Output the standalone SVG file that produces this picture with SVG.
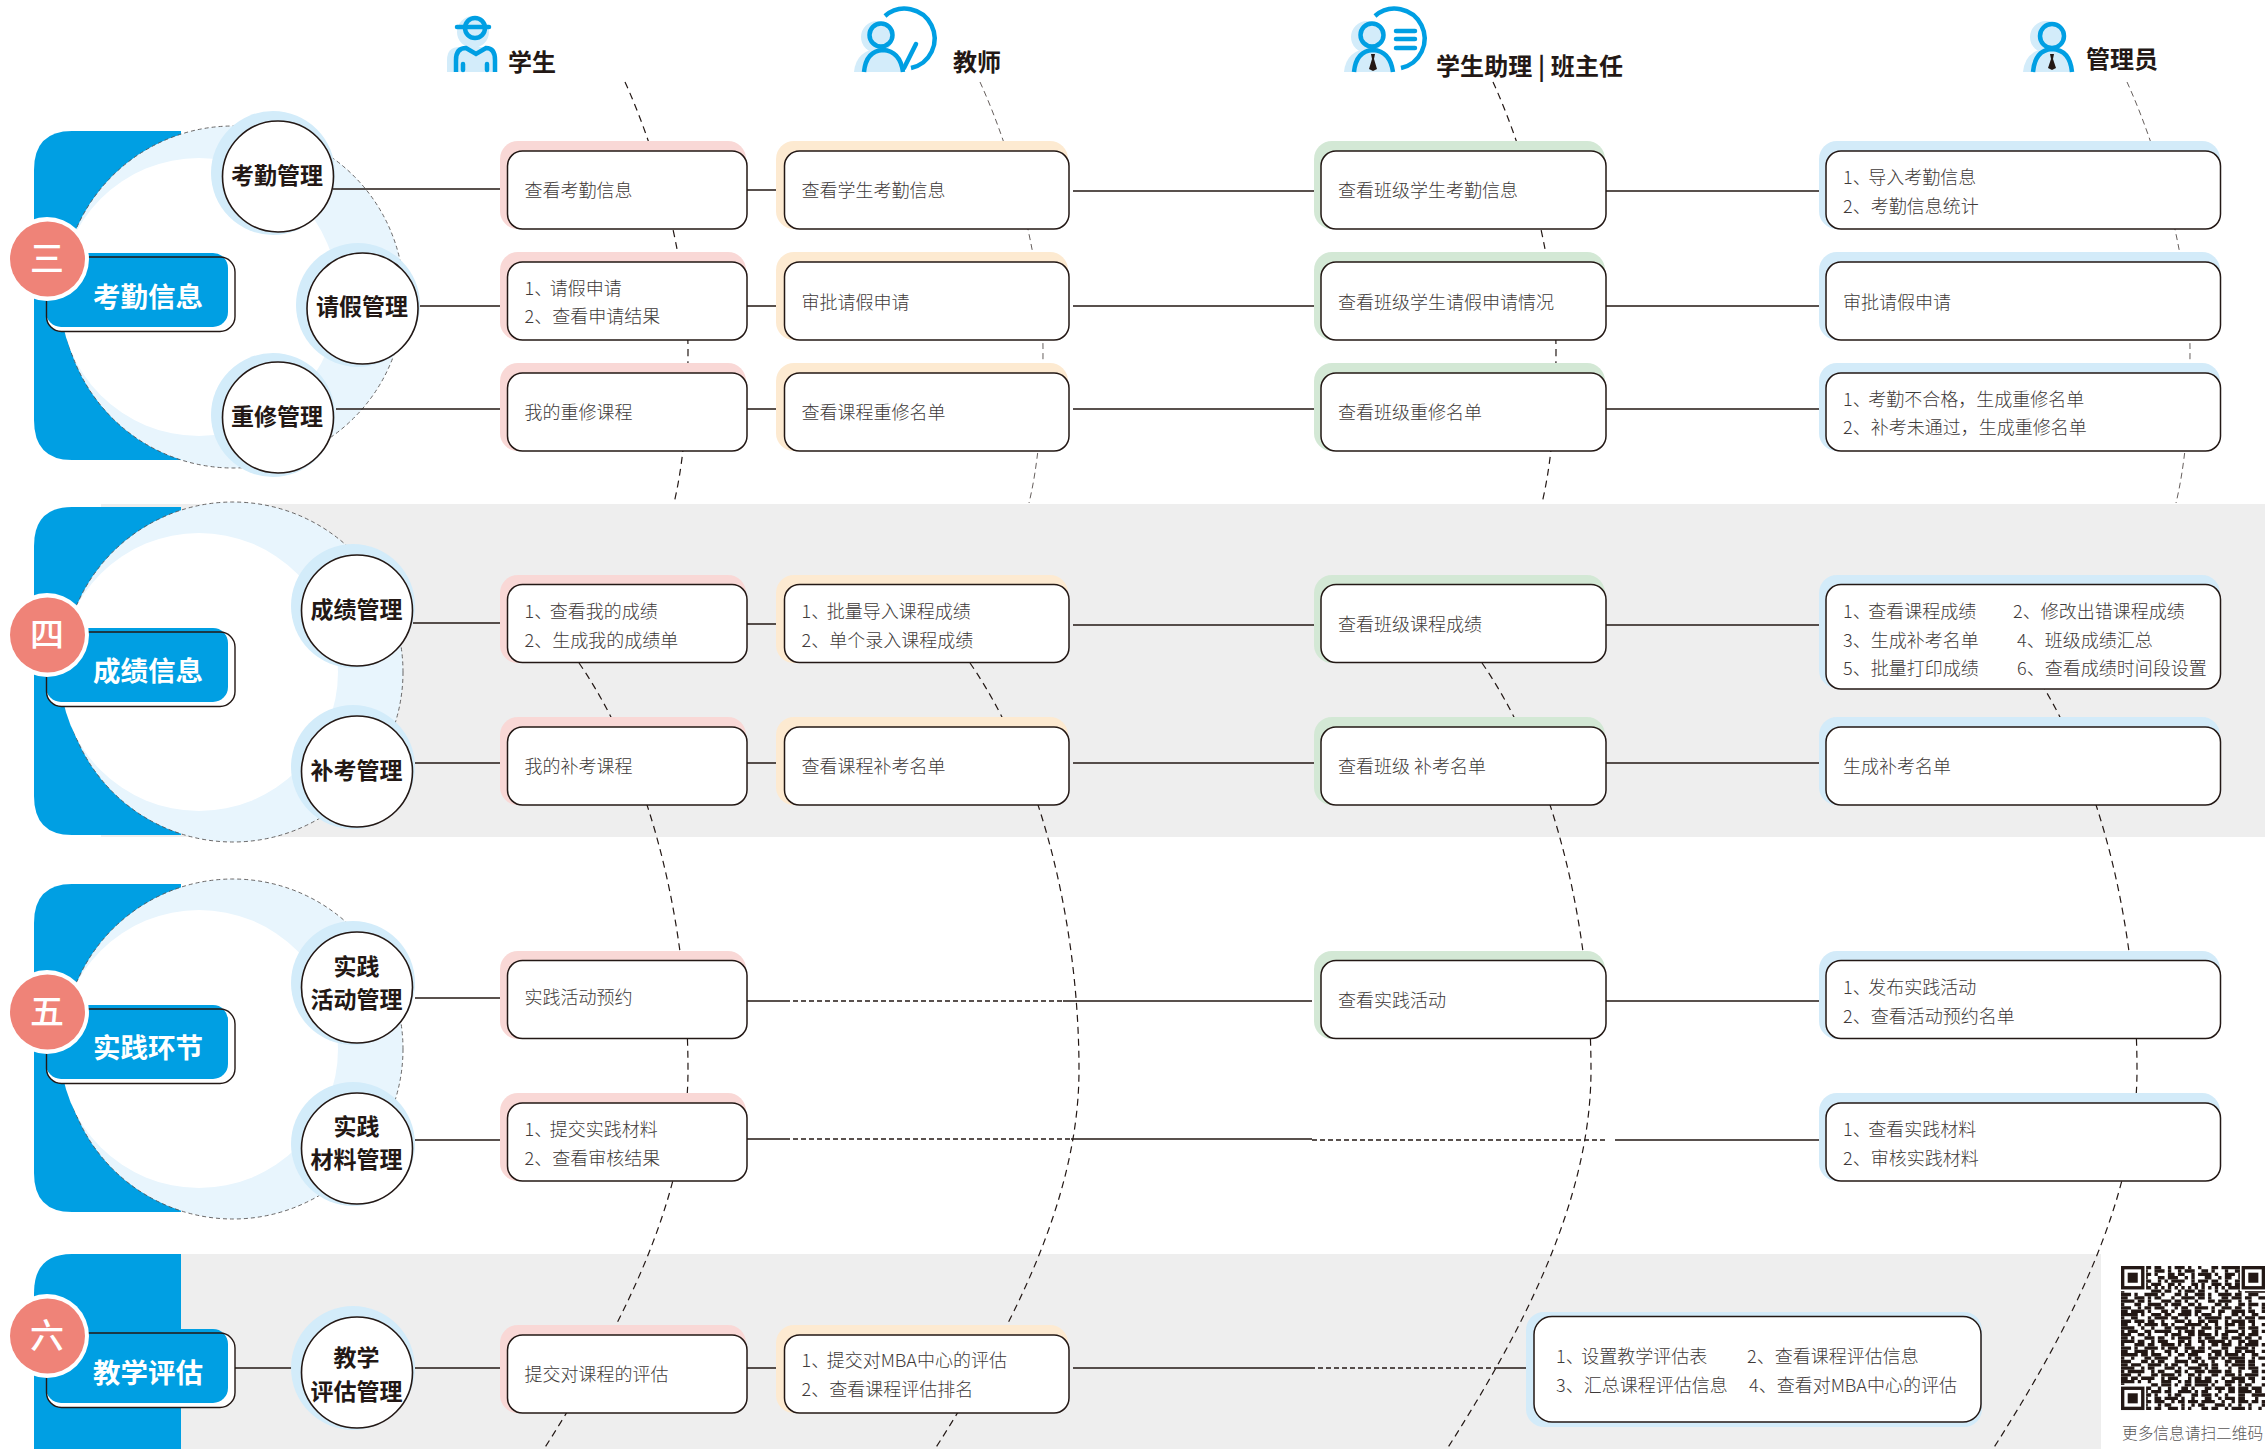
<svg xmlns="http://www.w3.org/2000/svg" width="2265" height="1449" viewBox="0 0 2265 1449">
<style>
text{font-family:"Noto Sans CJK SC","Noto Sans",sans-serif}
.t{font-size:18px;fill:#3e3a39;font-weight:300}
.n{font-size:23px;fill:#231815;font-weight:700;text-anchor:middle}
.h{font-size:24px;fill:#231815;font-weight:700}
.l{font-size:27.5px;fill:#fff;font-weight:700;text-anchor:middle}
.b{font-size:34px;fill:#fff;font-weight:500;text-anchor:middle}
.box{fill:#fff;stroke:#231815;stroke-width:1.5}
.pk{fill:#f9d8d6}.og{fill:#fdead1}.gn{fill:#d3e8d5}.bl{fill:#d3ebf9}
.ln{stroke:#231815;stroke-width:1.6;fill:none}
.dl{stroke:#231815;stroke-width:1.6;fill:none;stroke-dasharray:5 3}
.arc{stroke:#231815;stroke-width:1.2;fill:none;stroke-dasharray:7 5}
.arct{stroke:#231815;stroke-width:.7;fill:none;stroke-dasharray:6 4}
.halo{fill:#d3ecfa}
.circ{fill:#fff;stroke:#231815;stroke-width:1.6}
.ring{fill:#e8f5fd;stroke:#595757;stroke-width:.9;stroke-dasharray:4 3}
.pan{fill:#009fe3}
.lblo{fill:#fff}.lbls{fill:none;stroke:#231815;stroke-width:1.4}
.ic{fill:none;stroke:#009fe3;stroke-width:4.5;stroke-linecap:round}
.icb{fill:none;stroke:#009fe3;stroke-width:4.5}
.icf{fill:#d3ecfa;stroke:#009fe3;stroke-width:4.5}
.lt{fill:#d3ecfa}
.tie{fill:#231815}
.q{fill:none;stroke:#231815;stroke-width:1}
</style>
<defs>
<path id="a1" d="M625 82C665 170 688 280 688 350S682 470 674 503"/>
<path id="a2" d="M579 663C653 770 688 930 688 1070C688 1200 620 1330 544 1449"/>
<g id="fp"><rect x="-.5" y="-.5" width="8" height="8" fill="#fff"/><rect x=".5" y=".5" width="6" height="6" fill="#fff" stroke="#231815"/><rect x="2" y="2" width="3" height="3" fill="#231815"/></g>
</defs>
<rect x="101" y="504" width="2164" height="333" fill="#eee"/>
<rect x="181" y="1254" width="1920" height="195" fill="#eee"/>

<g id="connectors">
<use href="#a1" class="arc"/>
<use href="#a1" class="arct" x="355"/>
<use href="#a1" class="arc" x="868"/>
<use href="#a1" class="arct" x="1502"/>
<use href="#a2" class="arc"/>
<use href="#a2" class="arc" x="391"/>
<use href="#a2" class="arc" x="903"/>
<use href="#a2" class="arc" x="1449"/>
</g>

<g id="panel-3"><path class="pan" d="M181 131H72Q34 131 34 170V420Q34 460 72 460H181Z"/><circle class="ring" cx="233" cy="297" r="171"/><circle cx="199" cy="297" r="139" fill="#fff"/></g>
<g id="panel-4"><path class="pan" d="M181 507H72Q34 507 34 546V796Q34 835 72 835H181Z"/><circle class="ring" cx="233" cy="672" r="170"/><circle cx="199" cy="672" r="139" fill="#fff"/></g>
<g id="panel-5"><path class="pan" d="M181 884H72Q34 884 34 923V1173Q34 1212 72 1212H181Z"/><circle class="ring" cx="233" cy="1049" r="170"/><circle cx="199" cy="1049" r="139" fill="#fff"/></g>
<g id="panel-6"><path class="pan" d="M181 1254H72Q34 1254 34 1293V1449H181Z"/></g>

<g id="connector-lines">
<path class="ln" d="M333 189H500M747 190H776M1073 191H1314M1606 191H1819"/>
<path class="ln" d="M418 306H500M747 306H776M1073 306H1314M1606 306H1819"/>
<path class="ln" d="M336 409H500M747 409H776M1073 409H1314M1606 409H1819"/>
<path class="ln" d="M413 623H500M747 624H783M1073 625H1314M1606 625H1819"/>
<path class="ln" d="M415 763H500M747 763H776M1073 763H1314M1606 763H1819"/>
<path class="ln" d="M415 998H500M747 1001H785M1063 1001H1312M1606 1001H1819"/>
<path class="dl" d="M785 1001H1063"/>
<path class="ln" d="M415 1140H500M747 1139H785M1071 1139H1312M1615 1140H1819"/>
<path class="dl" d="M785 1139H1071M1312 1140H1607"/>
<path class="ln" d="M235 1368H292M415 1368H500M747 1368H776M1073 1368H1310M1498 1368H1526"/>
<path class="dl" d="M1310 1368H1498"/>
</g>

<g id="head-student"><circle class="lt" cx="473" cy="32" r="16"/><path class="lt" d="M447 72V60Q447 47 460 47H485Q497 47 497 60V72Z"/><circle class="icb" stroke-width="4" cx="475" cy="28" r="10"/><path class="ic" stroke-width="4" d="M457 27H489"/><path class="icb" d="M456 72V60Q456 48 466 48L476 54L486 48Q495 48 495 60V72"/><path class="ic" d="M463 64V70M487 64V70"/><text class="h" x="508" y="71">学生</text></g>
<g id="head-teacher"><circle class="lt" cx="877" cy="37" r="16"/><path class="lt" d="M854 72Q856 50 880 48Q900 50 903 72Z"/><circle class="icf" cx="881" cy="35" r="11.5"/><path class="icb" d="M864 72Q866 51 883 50Q900 51 903 72"/><path class="icb" stroke-width="4" d="M885 16A30 30 0 1 1 911 68"/><path class="ic" d="M904 68L916 44"/><text class="h" x="953" y="71">教师</text></g>
<g id="head-assistant"><circle class="lt" cx="1367" cy="37" r="16"/><path class="lt" d="M1344 72Q1346 50 1370 48Q1390 50 1393 72Z"/><circle class="icf" cx="1372" cy="35" r="11.5"/><path class="icb" d="M1354 72Q1356 51 1373 50Q1390 51 1393 72"/><path class="tie" d="M1371 54H1375L1374 59L1377 69L1373 71L1369 69L1372 59Z"/><path class="icb" stroke-width="4" d="M1375 16A30 30 0 1 1 1401 68"/><path class="ic" d="M1396 31H1415M1396 39H1415M1396 48H1415"/><text class="h" x="1436" y="75" textLength="187">学生助理 | 班主任</text></g>
<g id="head-admin"><circle class="lt" cx="2046" cy="37" r="16"/><path class="lt" d="M2023 72Q2025 50 2048 48Q2070 50 2072 72Z"/><circle class="icf" cx="2052" cy="36" r="12"/><path class="icb" d="M2033 72Q2035 50 2052 49Q2070 50 2072 72"/><path class="tie" d="M2050 54H2054L2053 59L2056 68L2052 70L2048 68L2051 59Z"/><text class="h" x="2086" y="68">管理员</text></g>

<g id="n-kq"><circle class="halo" cx="273" cy="173" r="62"/><circle class="circ" cx="278" cy="176.500" r="55.500"/><text class="n" x="277" y="184">考勤管理</text></g>
<g id="n-qj"><circle class="halo" cx="358" cy="305" r="62"/><circle class="circ" cx="362.500" cy="308.500" r="55.500"/><text class="n" x="362" y="315">请假管理</text></g>
<g id="n-cx"><circle class="halo" cx="273" cy="415" r="62"/><circle class="circ" cx="278" cy="417.500" r="55.500"/><text class="n" x="277" y="425">重修管理</text></g>
<g id="n-cj"><circle class="halo" cx="353" cy="606" r="62"/><circle class="circ" cx="357" cy="610.500" r="55.500"/><text class="n" x="356.500" y="618">成绩管理</text></g>
<g id="n-bk"><circle class="halo" cx="353" cy="767" r="62"/><circle class="circ" cx="357" cy="771.500" r="55.500"/><text class="n" x="356.500" y="779">补考管理</text></g>
<g id="n-sj1"><circle class="halo" cx="353" cy="983" r="62"/><circle class="circ" cx="357" cy="987.500" r="55.500"/><text class="n" x="356.500" y="975">实践</text><text class="n" x="356.500" y="1008">活动管理</text></g>
<g id="n-sj2"><circle class="halo" cx="353" cy="1144" r="62"/><circle class="circ" cx="357" cy="1148.500" r="55.500"/><text class="n" x="356.500" y="1135">实践</text><text class="n" x="356.500" y="1168">材料管理</text></g>
<g id="n-pg"><circle class="halo" cx="353" cy="1368" r="62"/><circle class="circ" cx="357" cy="1372.500" r="55.500"/><text class="n" x="356.500" y="1366">教学</text><text class="n" x="356.500" y="1400">评估管理</text></g>

<g id="label-3"><rect class="lblo" x="46.500" y="257" width="188.500" height="74.500" rx="15"/><rect class="pan" x="46" y="253" width="182" height="74" rx="15"/><rect class="lbls" x="46.500" y="257" width="188.500" height="74.500" rx="15"/><text class="l" x="148" y="307">考勤信息</text><circle cx="47" cy="259" r="42" fill="#fff"/><circle cx="47.500" cy="259" r="37.500" fill="#ef8378"/><text class="b" x="47" y="271">三</text></g>
<g id="label-4"><rect class="lblo" x="46.500" y="632" width="188.500" height="74.500" rx="15"/><rect class="pan" x="46" y="628" width="182" height="74" rx="15"/><rect class="lbls" x="46.500" y="632" width="188.500" height="74.500" rx="15"/><text class="l" x="148" y="681">成绩信息</text><circle cx="47" cy="635" r="42" fill="#fff"/><circle cx="47.500" cy="635" r="37.500" fill="#ef8378"/><text class="b" x="47" y="647">四</text></g>
<g id="label-5"><rect class="lblo" x="46.500" y="1009" width="188.500" height="74.500" rx="15"/><rect class="pan" x="46" y="1005" width="182" height="74" rx="15"/><rect class="lbls" x="46.500" y="1009" width="188.500" height="74.500" rx="15"/><text class="l" x="148" y="1058">实践环节</text><circle cx="47" cy="1012" r="42" fill="#fff"/><circle cx="47.500" cy="1012" r="37.500" fill="#ef8378"/><text class="b" x="47" y="1024">五</text></g>
<g id="label-6"><rect class="lblo" x="46.500" y="1333" width="188.500" height="74.500" rx="15"/><rect class="pan" x="46" y="1329" width="182" height="74" rx="15"/><rect class="lbls" x="46.500" y="1333" width="188.500" height="74.500" rx="15"/><text class="l" x="148" y="1383">教学评估</text><circle cx="47" cy="1336" r="42" fill="#fff"/><circle cx="47.500" cy="1336" r="37.500" fill="#ef8378"/><text class="b" x="47" y="1348">六</text></g>

<g id="c1s"><rect class="pk" x="500" y="141" width="246" height="88" rx="18"/><rect class="box" x="507.500" y="151" width="239.500" height="78" rx="15"/><text class="t" x="524.500" y="197">查看考勤信息</text></g>
<g id="c1t"><rect class="og" x="776" y="141" width="292" height="88" rx="18"/><rect class="box" x="784.500" y="151" width="284.500" height="78" rx="15"/><text class="t" x="801.500" y="197">查看学生考勤信息</text></g>
<g id="c1c"><rect class="gn" x="1314" y="141" width="291" height="88" rx="18"/><rect class="box" x="1321" y="151" width="285" height="78" rx="15"/><text class="t" x="1338" y="197">查看班级学生考勤信息</text></g>
<g id="c1a"><rect class="bl" x="1819" y="141" width="401" height="88" rx="18"/><rect class="box" x="1826" y="151" width="394.500" height="78" rx="15"/><text class="t" x="1843" y="183.500">1、<tspan dx="-2.500">导入考勤信息</tspan></text><text class="t" x="1843" y="212.500">2、考勤信息统计</text></g>

<g id="c2s"><rect class="pk" x="500" y="252" width="246" height="88" rx="18"/><rect class="box" x="507.500" y="262" width="239.500" height="78" rx="15"/><text class="t" x="524.500" y="295">1、<tspan dx="-2.500">请假申请</tspan></text><text class="t" x="524.500" y="323">2、查看申请结果</text></g>
<g id="c2t"><rect class="og" x="776" y="252" width="292" height="88" rx="18"/><rect class="box" x="784.500" y="262" width="284.500" height="78" rx="15"/><text class="t" x="801.500" y="308.500">审批请假申请</text></g>
<g id="c2c"><rect class="gn" x="1314" y="252" width="291" height="88" rx="18"/><rect class="box" x="1321" y="262" width="285" height="78" rx="15"/><text class="t" x="1338" y="308.500">查看班级学生请假申请情况</text></g>
<g id="c2a"><rect class="bl" x="1819" y="252" width="401" height="88" rx="18"/><rect class="box" x="1826" y="262" width="394.500" height="78" rx="15"/><text class="t" x="1843" y="308.500">审批请假申请</text></g>

<g id="c3s"><rect class="pk" x="500" y="363" width="246" height="88" rx="18"/><rect class="box" x="507.500" y="373" width="239.500" height="78" rx="15"/><text class="t" x="524.500" y="419">我的重修课程</text></g>
<g id="c3t"><rect class="og" x="776" y="363" width="292" height="88" rx="18"/><rect class="box" x="784.500" y="373" width="284.500" height="78" rx="15"/><text class="t" x="801.500" y="419">查看课程重修名单</text></g>
<g id="c3c"><rect class="gn" x="1314" y="363" width="291" height="88" rx="18"/><rect class="box" x="1321" y="373" width="285" height="78" rx="15"/><text class="t" x="1338" y="419">查看班级重修名单</text></g>
<g id="c3a"><rect class="bl" x="1819" y="363" width="401" height="88" rx="18"/><rect class="box" x="1826" y="373" width="394.500" height="78" rx="15"/><text class="t" x="1843" y="405.500">1、<tspan dx="-2.500">考勤不合格，生成重修名单</tspan></text><text class="t" x="1843" y="434">2、补考未通过，生成重修名单</text></g>

<g id="c4s"><rect class="pk" x="500" y="575" width="246" height="88" rx="18"/><rect class="box" x="507.500" y="584.500" width="239.500" height="78" rx="15"/><text class="t" x="524.500" y="617.500">1、<tspan dx="-2.500">查看我的成绩</tspan></text><text class="t" x="524.500" y="646.500">2、生成我的成绩单</text></g>
<g id="c4t"><rect class="og" x="776" y="575" width="292" height="88" rx="18"/><rect class="box" x="784.500" y="584.500" width="284.500" height="78" rx="15"/><text class="t" x="801.500" y="617.500">1、<tspan dx="-2.500">批量导入课程成绩</tspan></text><text class="t" x="801.500" y="646.500">2、单个录入课程成绩</text></g>
<g id="c4c"><rect class="gn" x="1314" y="575" width="291" height="88" rx="18"/><rect class="box" x="1321" y="584.500" width="285" height="78" rx="15"/><text class="t" x="1338" y="631">查看班级课程成绩</text></g>
<g id="c4a"><rect class="bl" x="1819" y="575" width="401" height="113" rx="18"/><rect class="box" x="1826" y="584.500" width="394.500" height="104.500" rx="15"/><text class="t" x="1843" y="617.500">1、<tspan dx="-2.500">查看课程成绩</tspan></text><text class="t" x="2013" y="617.500">2、修改出错课程成绩</text><text class="t" x="1843" y="646.500">3、生成补考名单</text><text class="t" x="2017" y="646.500">4、班级成绩汇总</text><text class="t" x="1843" y="675">5、批量打印成绩</text><text class="t" x="2017" y="675">6、查看成绩时间段设置</text></g>

<g id="c5s"><rect class="pk" x="500" y="717" width="246" height="88" rx="18"/><rect class="box" x="507.500" y="727" width="239.500" height="78" rx="15"/><text class="t" x="524.500" y="773">我的补考课程</text></g>
<g id="c5t"><rect class="og" x="776" y="717" width="292" height="88" rx="18"/><rect class="box" x="784.500" y="727" width="284.500" height="78" rx="15"/><text class="t" x="801.500" y="773">查看课程补考名单</text></g>
<g id="c5c"><rect class="gn" x="1314" y="717" width="291" height="88" rx="18"/><rect class="box" x="1321" y="727" width="285" height="78" rx="15"/><text class="t" x="1338" y="773">查看班级 补考名单</text></g>
<g id="c5a"><rect class="bl" x="1819" y="717" width="401" height="88" rx="18"/><rect class="box" x="1826" y="727" width="394.500" height="78" rx="15"/><text class="t" x="1843" y="773">生成补考名单</text></g>

<g id="c6s"><rect class="pk" x="500" y="951" width="246" height="88" rx="18"/><rect class="box" x="507.500" y="960.500" width="239.500" height="78" rx="15"/><text class="t" x="524.500" y="1004">实践活动预约</text></g>
<g id="c6c"><rect class="gn" x="1314" y="951" width="291" height="88" rx="18"/><rect class="box" x="1321" y="960.500" width="285" height="78" rx="15"/><text class="t" x="1338" y="1007">查看实践活动</text></g>
<g id="c6a"><rect class="bl" x="1819" y="951" width="401" height="88" rx="18"/><rect class="box" x="1826" y="960.500" width="394.500" height="78" rx="15"/><text class="t" x="1843" y="994">1、<tspan dx="-2.500">发布实践活动</tspan></text><text class="t" x="1843" y="1022.500">2、查看活动预约名单</text></g>

<g id="c7s"><rect class="pk" x="500" y="1093" width="246" height="88" rx="18"/><rect class="box" x="507.500" y="1103" width="239.500" height="78" rx="15"/><text class="t" x="524.500" y="1136">1、<tspan dx="-2.500">提交实践材料</tspan></text><text class="t" x="524.500" y="1165">2、查看审核结果</text></g>
<g id="c7a"><rect class="bl" x="1819" y="1093" width="401" height="88" rx="18"/><rect class="box" x="1826" y="1103" width="394.500" height="78" rx="15"/><text class="t" x="1843" y="1136">1、<tspan dx="-2.500">查看实践材料</tspan></text><text class="t" x="1843" y="1165">2、审核实践材料</text></g>

<g id="c8s"><rect class="pk" x="500" y="1325" width="246" height="88" rx="18"/><rect class="box" x="507.500" y="1335" width="239.500" height="78" rx="15"/><text class="t" x="524.500" y="1381">提交对课程的评估</text></g>
<g id="c8t"><rect class="og" x="776" y="1325" width="292" height="88" rx="18"/><rect class="box" x="784.500" y="1335" width="284.500" height="78" rx="15"/><text class="t" x="801.500" y="1367">1、<tspan dx="-2.500">提交对MBA中心的评估</tspan></text><text class="t" x="801.500" y="1396">2、查看课程评估排名</text></g>
<g id="c8a"><rect class="bl" x="1526" y="1312" width="456" height="115" rx="18"/><rect class="box" x="1534" y="1316.500" width="447" height="105.500" rx="18"/><text class="t" x="1556" y="1362.500">1、<tspan dx="-2.500">设置教学评估表</tspan></text><text class="t" x="1747" y="1362.500">2、查看课程评估信息</text><text class="t" x="1556" y="1391.500">3、汇总课程评估信息</text><text class="t" x="1749" y="1391.500">4、查看对MBA中心的评估</text></g>

<g id="qr" transform="translate(2121,1266) scale(3.35)">
<path class="q" d="M0 .5H43" stroke-dasharray="9 1 2 2 1 1 3 1 1 2 1 3 2 1 9"/>
<path class="q" d="M0 1.500H43" stroke-dasharray="8 2 3 1 1 2 1 1 3 2 2 1 1 3 1 2 9"/>
<path class="q" d="M0 2.500H43" stroke-dasharray="9 1 1 3 2 1 2 2 1 1 4 1 1 2 3 1 8"/>
<path class="q" d="M0 3.500H43" stroke-dasharray="8 3 2 1 3 2 1 1 1 3 2 2 1 1 2 2 8"/>
<path class="q" d="M0 4.500H43" stroke-dasharray="9 2 1 1 1 1 4 2 1 1 3 1 2 2 1 2 9"/>
<path class="q" d="M0 5.500H43" stroke-dasharray="8 1 3 2 2 1 1 3 2 1 1 2 3 1 2 1 8"/>
<path class="q" d="M0 6.500H43" stroke-dasharray="9 1 1 1 1 1 1 1 1 1 1 1 1 1 1 1 1 1 1 1 1 1 1 1 9"/>
<path class="q" d="M0 7.500H43" stroke-dasharray="1 8 3 1 2 2 1 1 3 1 2 3 1 2 1 3 1"/>
<path class="q" d="M0 8.500H43" stroke-dasharray="3 1 1 2 4 1 1 3 2 1 1 2 3 1 1 2 4 1 2 2 3"/>
<path class="q" d="M0 9.500H43" stroke-dasharray="2 2 3 1 1 1 2 3 1 2 4 1 2 1 1 3 2 1 3 1 2"/>
<path class="q" d="M0 10.500H43" stroke-dasharray="4 1 2 1 1 3 3 1 2 1 1 2 1 3 2 1 4 2 1 2 1"/>
<path class="q" d="M0 11.500H43" stroke-dasharray="1 3 2 2 4 1 1 1 3 2 2 1 1 4 2 1 1 3 2 1 3"/>
<path class="q" d="M0 12.500H43" stroke-dasharray="3 2 1 1 2 1 3 3 1 1 2 2 4 1 1 2 3 1 2 2 1"/>
<path class="q" d="M0 13.500H43" stroke-dasharray="2 1 4 1 1 3 2 1 1 2 3 1 2 3 1 1 2 2 4 1 2"/>
<path class="q" d="M0 14.500H43" stroke-dasharray="5 1 1 2 3 1 2 2 4 1 1 1 3 2 1 3 2 1 1 2 2"/>
<path class="q" d="M0 15.500H43" stroke-dasharray="1 2 2 3 1 1 4 1 2 2 1 3 1 1 5 1 2 2 1 1 3"/>
<path class="q" d="M0 16.500H43" stroke-dasharray="3 1 3 1 2 2 1 3 3 1 1 2 2 1 3 2 1 1 4 1 2"/>
<path class="q" d="M0 17.500H43" stroke-dasharray="2 3 1 1 4 1 2 1 1 3 5 1 1 2 1 2 3 1 2 2 1"/>
<path class="q" d="M0 18.500H43" stroke-dasharray="4 2 1 2 1 3 2 1 4 1 1 2 3 1 2 1 1 3 2 1 3"/>
<path class="q" d="M0 19.500H43" stroke-dasharray="1 1 3 2 2 1 5 2 1 1 3 1 2 3 1 2 4 1 1 2 2"/>
<path class="q" d="M0 20.500H43" stroke-dasharray="3 2 2 1 1 4 1 1 3 2 2 1 4 1 1 1 2 3 2 1 3"/>
<path class="q" d="M0 21.500H43" stroke-dasharray="2 1 1 3 3 1 2 2 1 1 4 2 1 1 3 2 2 1 3 1 2"/>
<path class="q" d="M0 22.500H43" stroke-dasharray="4 1 2 2 1 1 3 3 2 1 1 2 2 1 5 1 1 2 2 1 3"/>
<path class="q" d="M0 23.500H43" stroke-dasharray="1 3 3 1 2 2 4 1 1 1 2 3 1 2 2 1 3 2 1 1 4"/>
<path class="q" d="M0 24.500H43" stroke-dasharray="3 1 1 2 4 1 1 1 3 2 3 1 2 1 1 3 2 2 4 1 1"/>
<path class="q" d="M0 25.500H43" stroke-dasharray="2 2 4 1 1 3 2 1 1 2 1 1 4 2 3 1 1 2 2 1 3"/>
<path class="q" d="M0 26.500H43" stroke-dasharray="5 1 2 1 3 2 1 2 2 1 3 3 1 1 2 1 4 1 1 2 2"/>
<path class="q" d="M0 27.500H43" stroke-dasharray="1 2 1 3 2 1 4 2 1 3 1 1 2 2 3 1 1 1 5 2 1"/>
<path class="q" d="M0 28.500H43" stroke-dasharray="3 3 2 1 1 1 2 3 4 1 2 1 1 2 1 3 2 1 3 1 2"/>
<path class="q" d="M0 29.500H43" stroke-dasharray="2 1 3 2 4 1 1 1 2 2 1 3 3 1 2 2 1 1 4 1 2"/>
<path class="q" d="M0 30.500H43" stroke-dasharray="4 2 1 1 2 3 3 1 1 2 4 1 1 1 2 3 1 2 2 1 3"/>
<path class="q" d="M0 31.500H43" stroke-dasharray="1 1 5 2 1 1 2 3 2 1 1 2 3 1 4 1 2 2 1 3 2"/>
<path class="q" d="M0 32.500H43" stroke-dasharray="3 2 1 3 2 1 4 1 1 2 2 1 1 3 2 2 3 1 1 1 4"/>
<path class="q" d="M0 33.500H43" stroke-dasharray="2 1 2 1 4 2 1 1 3 3 1 1 2 1 2 3 1 2 4 1 2"/>
<path class="q" d="M0 34.500H43" stroke-dasharray="4 1 1 2 1 3 3 2 1 1 2 1 5 1 1 2 3 1 2 2 1"/>
<path class="q" d="M0 35.500H43" stroke-dasharray="1 8 2 1 3 1 1 2 2 1 4 1 1 3 2 2 1 1 2 3"/>
<path class="q" d="M0 36.500H43" stroke-dasharray="9 2 1 2 1 3 2 1 1 3 2 1 3 1 2 1 3 1 3"/>
<path class="q" d="M0 37.500H43" stroke-dasharray="8 1 3 1 2 2 4 1 1 1 2 3 1 2 2 1 4 1 2 1"/>
<path class="q" d="M0 38.500H43" stroke-dasharray="9 1 1 3 1 1 2 3 2 1 3 1 1 2 1 3 2 2 4"/>
<path class="q" d="M0 39.500H43" stroke-dasharray="8 2 2 1 4 1 1 2 1 3 2 2 1 1 3 1 2 3 1 2"/>
<path class="q" d="M0 40.500H43" stroke-dasharray="9 1 3 2 1 1 2 1 3 1 4 2 1 2 1 1 3 1 2 1"/>
<path class="q" d="M0 41.500H43" stroke-dasharray="8 3 1 1 2 3 1 2 1 1 2 3 3 1 1 2 1 2 1 3"/>
<path class="q" d="M0 42.500H43" stroke-dasharray="9 1 2 2 3 1 1 1 1 3 2 1 2 2 1 1 4 1 1 2 1"/>
<use href="#fp"/><use href="#fp" x="36"/><use href="#fp" y="36"/>
</g>
<text x="2122" y="1439" font-size="15.700" fill="#595757" font-weight="300">更多信息请扫二维码</text>
</svg>
